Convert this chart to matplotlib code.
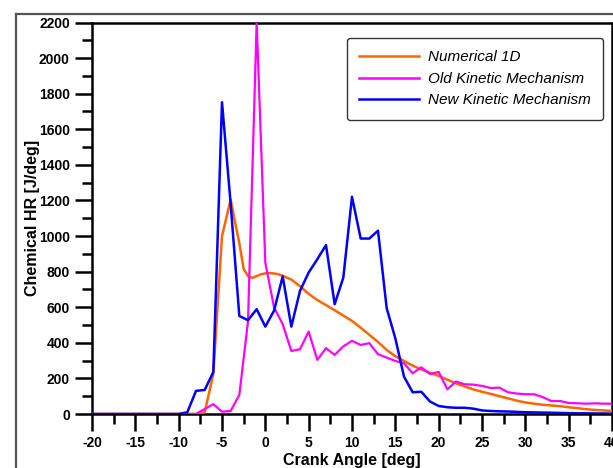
import matplotlib
matplotlib.use("Agg")
import matplotlib.pyplot as plt
from matplotlib.ticker import MultipleLocator
from matplotlib.lines import Line2D

plt.rcParams["axes.unicode_minus"] = False

# ---------------- data ----------------
x_new = list(range(-20, 41))
y_new = [0]*10 + [0, 10, 130, 135, 236, 1752, 1180, 551, 527, 589,
         491, 580, 773, 491, 692, 795, 870, 949, 617, 767,
         1221, 986, 986, 1030, 595, 425, 210, 122, 125, 70,
         45, 38, 35, 35, 30, 20, 17, 15, 14, 12,
         10, 9, 8, 7, 6, 5, 4, 4, 3, 3, 2]

x_old = list(range(-20, 41))
y_old = [0]*12 + [0, 28, 55, 13, 17, 107, 520, 2200,
         850, 600, 505, 354, 364, 463, 304, 370, 332, 380,
         411, 388, 398, 336, 317, 298, 285, 229, 262, 225,
         236, 139, 182, 167, 165, 158, 146, 148, 122, 115,
         111, 111, 95, 73, 73, 62, 60, 58, 60, 58, 58]

x_num = [-20, -8, -7.5, -7, -6, -5, -4, -3.5, -3, -2.5, -2, -1.5, -1, -0.5,
         0, 0.5, 1, 1.5, 2, 3, 4, 5, 6, 7, 8, 9, 10, 11, 12, 13, 14, 15,
         16, 17, 18, 19, 20, 21, 22, 23, 24, 25, 26, 27, 28, 29, 30, 31,
         32, 33, 34, 35, 36, 37, 38, 39, 40]
y_num = [0, 0, 0, 10, 225, 1000, 1205, 1080, 960, 815, 775, 765, 775, 785,
         790, 792, 790, 785, 777, 755, 718, 675, 640, 612, 583, 553, 523,
         485, 445, 405, 360, 325, 298, 272, 250, 232, 214, 193, 172, 155,
         138, 125, 113, 100, 88, 75, 65, 58, 52, 48, 44, 38, 33, 27, 23,
         20, 17]

labels = ["Numerical 1D", "Old Kinetic Mechanism", "New Kinetic Mechanism"]
colors = ["#FF6600", "#FF00FF", "#0000FF"]

# ---------------- figure ----------------
W, H = 613, 468
fig = plt.figure(figsize=(W/100, H/100), dpi=100)
fig.patch.set_facecolor("white")

# outer page frame (gray)
fig.add_artist(Line2D([16/W, 1.0], [1 - 14/H, 1 - 14/H], color="#555555", lw=1.6,
                      transform=fig.transFigure))
fig.add_artist(Line2D([16/W, 16/W], [0, 1 - 14/H], color="#555555", lw=1.6,
                      transform=fig.transFigure))

left, right, top, bottom = 92, 612, 22.5, 414
ax = fig.add_axes([left/W, 1 - bottom/H, (right-left)/W, (bottom-top)/H])

ax.plot(x_num, y_num, color=colors[0], lw=1.8, label=labels[0], zorder=3)
ax.plot(x_old, y_old, color=colors[1], lw=1.6, label=labels[1], zorder=4)
ax.plot(x_new, y_new, color=colors[2], lw=1.8, label=labels[2], zorder=5)

ax.set_xlim(-20, 40)
ax.set_ylim(0, 2200)
ax.xaxis.set_major_locator(MultipleLocator(5))
ax.xaxis.set_minor_locator(MultipleLocator(2.5))
ax.yaxis.set_major_locator(MultipleLocator(200))
ax.yaxis.set_minor_locator(MultipleLocator(100))

fam = ["Liberation Sans", "DejaVu Sans"]
for s in ax.spines.values():
    s.set_linewidth(1.8)
ax.tick_params(which="major", direction="out", length=12, width=1.8,
               labelsize=10, pad=4)
ax.tick_params(which="minor", direction="out", length=7, width=1.8)
ax.tick_params(axis="y", which="both", right=False)
ax.tick_params(axis="x", which="both", top=False)
for lab in ax.get_xticklabels() + ax.get_yticklabels():
    lab.set_fontfamily(fam)
    lab.set_fontweight("bold")

ax.set_xlabel("Crank Angle [deg]", fontsize=11.5, fontweight="bold",
              family=fam, labelpad=2)
ax.set_ylabel("Chemical HR [J/deg]", fontsize=11.5, fontweight="bold",
              family=fam, labelpad=-1)

leg = ax.legend(loc="upper left",
                bbox_to_anchor=((347-left)/(right-left), 1 - (38-top)/(bottom-top)),
                prop={"family": fam, "style": "italic", "size": 11},
                frameon=True, fancybox=True, edgecolor="black",
                handlelength=3.9, handletextpad=0.6, labelspacing=0.5,
                borderpad=0.8, borderaxespad=0)
leg.get_frame().set_linewidth(1.0)
for h in leg.get_lines():
    h.set_linewidth(1.8)

fig.savefig("out.png", dpi=100)
